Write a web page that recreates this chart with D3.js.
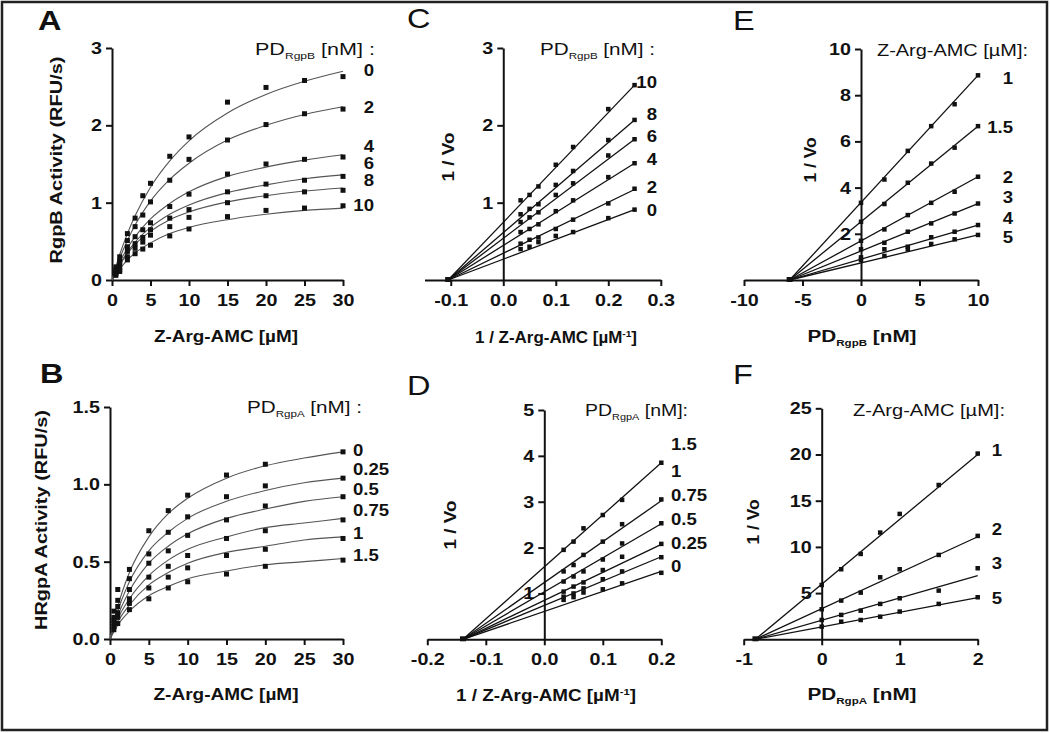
<!DOCTYPE html>
<html><head><meta charset="utf-8">
<script src="https://cdn.jsdelivr.net/npm/d3@7"></script>
<style>
body{margin:0;background:#fff;}
text{font-family:"Liberation Sans",Arial,sans-serif;fill:#111;}
</style></head><body>
<script>
// ---------- DATA ----------
// Panel A: RgpB activity vs Z-Arg-AMC, series = PD_RgpB [nM]
const aX = [0.5, 1, 2, 3, 4, 5, 7.5, 10, 15, 20, 25, 30];
const aLabels = ["0", "2", "4", "6", "8", "10"];
const aY0  = [0.17, 0.30, 0.60, 0.80, 1.09, 1.25, 1.60, 1.85, 2.30, 2.49, 2.58, 2.63];
const aY2  = [0.13, 0.24, 0.51, 0.69, 0.84, 1.01, 1.29, 1.56, 1.81, 2.01, 2.15, 2.21];
const aY4  = [0.11, 0.22, 0.43, 0.56, 0.65, 0.74, 0.95, 1.11, 1.37, 1.50, 1.56, 1.59];
const aY6  = [0.09, 0.17, 0.37, 0.47, 0.55, 0.65, 0.80, 0.91, 1.14, 1.24, 1.29, 1.34];
const aY8  = [0.08, 0.13, 0.30, 0.41, 0.49, 0.58, 0.69, 0.81, 1.00, 1.09, 1.14, 1.16];
const aY10 = [0.06, 0.11, 0.26, 0.34, 0.40, 0.45, 0.57, 0.66, 0.82, 0.90, 0.93, 0.96];
// fitted curves
const aFitX   = [0, 1, 2, 3, 5, 7.5, 10, 15, 20, 25, 30];
const aFit0   = [0, 0.33, 0.60, 0.83, 1.20, 1.54, 1.80, 2.16, 2.40, 2.57, 2.70];
const aFit2   = [0, 0.28, 0.51, 0.71, 1.02, 1.30, 1.51, 1.81, 2.00, 2.14, 2.24];
const aFit4   = [0, 0.23, 0.41, 0.56, 0.79, 0.99, 1.14, 1.34, 1.46, 1.55, 1.62];
const aFit6   = [0, 0.20, 0.36, 0.49, 0.68, 0.85, 0.97, 1.13, 1.23, 1.31, 1.36];
const aFit8   = [0, 0.19, 0.34, 0.46, 0.63, 0.78, 0.88, 1.01, 1.09, 1.15, 1.19];
const aFit10  = [0, 0.14, 0.26, 0.35, 0.48, 0.60, 0.68, 0.78, 0.85, 0.90, 0.93];
const aXTicks = [0, 5, 10, 15, 20, 25, 30];
const aYTicks = [0, 1, 2, 3];

// Panel B: HRgpA activity vs Z-Arg-AMC, series = PD_RgpA [nM]
const bX = [0.5, 1, 2.5, 5, 7.5, 10, 15, 20, 30];
const bLabels = ["0", "0.25", "0.5", "0.75", "1", "1.5"];
const bY0   = [0.18, 0.32, 0.45, 0.70, 0.83, 0.93, 1.06, 1.13, 1.21];
const bY025 = [0.14, 0.25, 0.39, 0.55, 0.69, 0.79, 0.92, 0.99, 1.04];
const bY05  = [0.12, 0.21, 0.32, 0.49, 0.57, 0.67, 0.77, 0.86, 0.92];
const bY075 = [0.10, 0.17, 0.26, 0.40, 0.47, 0.54, 0.65, 0.70, 0.77];
const bY1   = [0.08, 0.14, 0.23, 0.33, 0.40, 0.46, 0.54, 0.58, 0.65];
const bY15  = [0.06, 0.10, 0.19, 0.26, 0.33, 0.37, 0.42, 0.47, 0.51];
const bFitX   = [0, 1, 2.5, 5, 7.5, 10, 15, 20, 25, 30];
const bFit0   = [0, 0.21, 0.43, 0.66, 0.81, 0.91, 1.04, 1.12, 1.17, 1.21];
const bFit025 = [0, 0.18, 0.37, 0.57, 0.69, 0.78, 0.89, 0.96, 1.01, 1.04];
const bFit05  = [0, 0.15, 0.31, 0.49, 0.60, 0.68, 0.78, 0.84, 0.89, 0.92];
const bFit075 = [0, 0.13, 0.26, 0.41, 0.51, 0.58, 0.66, 0.72, 0.75, 0.78];
const bFit1   = [0, 0.11, 0.22, 0.35, 0.43, 0.49, 0.56, 0.60, 0.64, 0.66];
const bFit15  = [0, 0.09, 0.18, 0.28, 0.34, 0.39, 0.44, 0.48, 0.50, 0.52];
const bXTicks = [0, 5, 10, 15, 20, 25, 30];
const bYTicks = [0, 0.5, 1, 1.5];

// Panel C: Lineweaver-Burk RgpB
const cX = [0.033, 0.05, 0.067, 0.1, 0.133, 0.2, 0.25];
const cLabels = ["0", "2", "4", "6", "8", "10"];
const cY0  = [0.40, 0.43, 0.49, 0.57, 0.62, 0.80, 0.91];
const cY2  = [0.47, 0.52, 0.55, 0.66, 0.78, 0.99, 1.18];
const cY4  = [0.62, 0.66, 0.72, 0.89, 1.03, 1.33, 1.51];
const cY6  = [0.75, 0.81, 0.875, 1.10, 1.25, 1.61, 1.82];
const cY8  = [0.85, 0.92, 0.98, 1.23, 1.41, 1.81, 2.07];
const cY10 = [1.03, 1.10, 1.21, 1.49, 1.72, 2.21, 2.52];
const cFitX = [-0.105, 0.25];
const cFitEnd = [0.91, 1.17, 1.51, 1.82, 2.07, 2.52];
const cXTicks = [-0.1, 0, 0.1, 0.2, 0.3];
const cYTicks = [1, 2, 3];

// Panel D: Lineweaver-Burk HRgpA
const dX = [0.033, 0.05, 0.067, 0.1, 0.133, 0.2];
const dLabels = ["0", "0.25", "0.5", "0.75", "1", "1.5"];
const dY0   = [0.86, 0.92, 1.02, 1.09, 1.22, 1.45];
const dY025 = [0.93, 1.00, 1.11, 1.31, 1.48, 1.79];
const dY05  = [1.04, 1.15, 1.24, 1.51, 1.80, 2.08];
const dY075 = [1.26, 1.37, 1.48, 1.74, 2.09, 2.53];
const dY1   = [1.48, 1.62, 1.84, 2.13, 2.51, 3.05];
const dY15  = [1.95, 2.13, 2.42, 2.71, 3.04, 3.85];
const dFitX = [-0.139, 0.2];
const dFitEnd = [1.48, 1.80, 2.07, 2.52, 3.02, 3.85];
const dXTicks = [-0.2, -0.1, 0, 0.1, 0.2];
const dYTicks = [1, 2, 3, 4, 5];

// Panel E: Dixon RgpB, series = Z-Arg-AMC [uM]
const eX = [0, 2, 4, 6, 8, 10];
const eLabels = ["1", "1.5", "2", "3", "4", "5"];
const eY1  = [3.34, 4.35, 5.59, 6.66, 7.61, 8.86];
const eY15 = [2.52, 3.29, 4.21, 5.04, 5.73, 6.66];
const eY2  = [1.70, 2.19, 2.81, 3.34, 3.82, 4.47];
const eY3  = [1.33, 1.61, 2.09, 2.45, 2.88, 3.31];
const eY4  = [0.98, 1.33, 1.44, 1.85, 2.09, 2.38];
const eY5  = [0.86, 1.04, 1.33, 1.56, 1.76, 1.95];
const eFitX = [-6.1, 10];
const eFitEnd = [8.86, 6.66, 4.47, 3.31, 2.38, 1.95];
const eXTicks = [-10, -5, 0, 5, 10];
const eYTicks = [2, 4, 6, 8, 10];

// Panel F: Dixon HRgpA
const fX = [0, 0.25, 0.5, 0.75, 1, 1.5, 2];
const fLabels = ["1", "2", "3", "5"];
const fY1 = [5.88, 7.58, 9.24, 11.55, 13.57, 16.7, 20.1];
const fY2 = [3.25, 4.19, 5.05, 6.71, 7.58, 9.13, 11.19];
const fY3 = [2.09, 2.64, 3.10, 3.83, 4.44, 5.27, 7.69];
const fY5 = [1.37, 1.91, 2.09, 2.45, 3.00, 3.83, 4.55];
const fFitX = [-0.85, 2];
const fFitEnd = [20.0, 11.1, 6.9, 4.5];
const fXTicks = [-1, 0, 1, 2];
const fYTicks = [5, 10, 15, 20, 25];

// ---------- LAYOUT ----------
const FONT = '"Liberation Sans", Arial, sans-serif';
const fmtInt = d => String(d);
const fmt1 = d => (d < 0 ? "-" : "") + Math.abs(d).toFixed(1);

const panels = [
  { letter: "A", letterPos: [38, 30], letterBold: true,
    xDomain: [0, 30], xRange: [112, 343], yDomain: [0, 3], yRange: [280, 48],
    xTicks: aXTicks, yTicks: aYTicks, xFmt: fmtInt, yFmt: fmtInt,
    xs: aX, series: [aY0, aY2, aY4, aY6, aY8, aY10], labels: aLabels, ms: 5,
    fitXs: aFitX, fits: [aFit0, aFit2, aFit4, aFit6, aFit8, aFit10],
    lab: { x: 374, anchor: "end", ys: [70, 107, 146, 163, 180, 205] },
    yTitle: { parts: [{ t: "RgpB Activity (RFU/s)" }], pos: [56, 160], len: 207 },
    xTitle: { parts: [{ t: "Z-Arg-AMC [µM]" }], pos: [226, 336], len: 144 },
    legend: { parts: [{ t: "PD" }, { t: "RgpB", sub: true }, { t: " [nM] :" }], pos: [255, 49], len: 120 } },
  { letter: "B", letterPos: [40, 383], letterBold: true,
    xDomain: [0, 30], xRange: [110, 343], yDomain: [0, 1.5], yRange: [639, 407],
    xTicks: bXTicks, yTicks: bYTicks, xFmt: fmtInt, yFmt: fmt1,
    xs: bX, series: [bY0, bY025, bY05, bY075, bY1, bY15], labels: bLabels, ms: 5,
    fitXs: bFitX, fits: [bFit0, bFit025, bFit05, bFit075, bFit1, bFit15],
    lab: { x: 353, anchor: "start", ys: [450, 469, 489, 510, 533, 555] },
    yTitle: { parts: [{ t: "HRgpA Activity (RFU/s)" }], pos: [41, 520], len: 220 },
    xTitle: { parts: [{ t: "Z-Arg-AMC [µM]" }], pos: [226, 694], len: 145 },
    legend: { parts: [{ t: "PD" }, { t: "RgpA", sub: true }, { t: " [nM] :" }], pos: [247, 407], len: 115 } },
  { letter: "C", letterPos: [407, 28], letterBold: false,
    xDomain: [-0.15, 0.3], xRange: [424.5, 660.8], yDomain: [0, 3], yRange: [280, 48],
    xTicks: cXTicks, yTicks: cYTicks, xFmt: fmt1, yFmt: fmtInt,
    xs: cX, series: [cY0, cY2, cY4, cY6, cY8, cY10], labels: cLabels, ms: 4.5,
    fitX: cFitX, fitEnd: cFitEnd,
    lab: { x: 657, anchor: "end", ys: [210, 187, 159, 136, 114, 82] },
    yTitle: { parts: [{ t: "1 / Vo" }], pos: [448, 157], len: 49 },
    xTitle: { parts: [{ t: "1 / Z-Arg-AMC [µM" }, { t: "-1", sup: true }, { t: "]" }], pos: [556, 337], len: 162 },
    legend: { parts: [{ t: "PD" }, { t: "RgpB", sub: true }, { t: " [nM] :" }], pos: [540, 49], len: 115 } },
  { letter: "D", letterPos: [407, 395], letterBold: false,
    xDomain: [-0.2, 0.2], xRange: [427.3, 661.3], yDomain: [0, 5], yRange: [639.3, 410],
    xTicks: dXTicks, yTicks: dYTicks, xFmt: fmt1, yFmt: fmtInt,
    xs: dX, series: [dY0, dY025, dY05, dY075, dY1, dY15], labels: dLabels, ms: 4.5,
    fitX: dFitX, fitEnd: dFitEnd,
    lab: { x: 671, anchor: "start", ys: [566, 543, 519, 495, 471, 444] },
    yTitle: { parts: [{ t: "1 / Vo" }], pos: [450, 525], len: 49 },
    xTitle: { parts: [{ t: "1 / Z-Arg-AMC [µM" }, { t: "-1", sup: true }, { t: "]" }], pos: [546, 695], len: 180 },
    legend: { parts: [{ t: "PD" }, { t: "RgpA", sub: true }, { t: " [nM]:" }], pos: [585, 410], len: 103 } },
  { letter: "E", letterPos: [733, 30], letterBold: false,
    xDomain: [-10, 10], xRange: [744, 978], yDomain: [0, 10], yRange: [280, 49],
    xTicks: eXTicks, yTicks: eYTicks, xFmt: fmtInt, yFmt: fmtInt,
    xs: eX, series: [eY1, eY15, eY2, eY3, eY4, eY5], labels: eLabels, ms: 4.5,
    fitX: eFitX, fitEnd: eFitEnd,
    lab: { x: 1013, anchor: "end", ys: [78, 127, 177, 197, 218, 237] },
    yTitle: { parts: [{ t: "1 / Vo" }], pos: [810, 160], len: 45 },
    xTitle: { parts: [{ t: "PD" }, { t: "RgpB", sub: true }, { t: " [nM]" }], pos: [862, 336], len: 109 },
    legend: { parts: [{ t: "Z-Arg-AMC [µM]:" }], pos: [877, 50], len: 151 } },
  { letter: "F", letterPos: [733, 384], letterBold: false,
    xDomain: [-1, 2], xRange: [743.7, 977.7], yDomain: [0, 25], yRange: [639.3, 408.3],
    xTicks: fXTicks, yTicks: fYTicks, xFmt: fmtInt, yFmt: fmtInt,
    xs: fX, series: [fY1, fY2, fY3, fY5], labels: fLabels, ms: 4.5,
    fitX: fFitX, fitEnd: fFitEnd,
    lab: { x: 1002, anchor: "end", ys: [450, 529, 563, 598] },
    yTitle: { parts: [{ t: "1 / Vo" }], pos: [753, 522], len: 45 },
    xTitle: { parts: [{ t: "PD" }, { t: "RgpA", sub: true }, { t: " [nM]" }], pos: [862, 694], len: 109 },
    legend: { parts: [{ t: "Z-Arg-AMC [µM]:" }], pos: [853, 410], len: 152 } }
];

// ---------- DRAW ----------
const svg = d3.select("body").append("svg").attr("width", 1050).attr("height", 733);
svg.append("rect").attr("x", 2).attr("y", 2).attr("width", 1045).attr("height", 728)
  .attr("fill", "#fff").attr("stroke", "#222").attr("stroke-width", 2.5);

function rich(g, parts, size, weight) {
  const t = g.append("text").attr("font-family", FONT).attr("font-size", size).attr("font-weight", weight).attr("fill", "#111");
  let shift = 0;
  parts.forEach(p => {
    const ts = t.append("tspan").text(p.t);
    let target = 0, fs = size;
    if (p.sub) { target = 4; fs = size * 0.56; }
    if (p.sup) { target = -6; fs = size * 0.6; }
    ts.attr("font-size", fs);
    if (target !== shift) { ts.attr("dy", target - shift); shift = target; }
  });
  return t;
}

panels.forEach(p => {
  const x = d3.scaleLinear().domain(p.xDomain).range(p.xRange);
  const y = d3.scaleLinear().domain(p.yDomain).range(p.yRange);
  const g = svg.append("g");
  const yAxisX = p.xDomain[0] < 0 ? x(0) : p.xRange[0];

  const xa = g.append("g").attr("transform", `translate(0,${y(0)})`)
    .call(d3.axisBottom(x).tickValues(p.xTicks).tickFormat(p.xFmt).tickSize(6).tickSizeOuter(0).tickPadding(8));
  const ya = g.append("g").attr("transform", `translate(${yAxisX},0)`)
    .call(d3.axisLeft(y).tickValues(p.yTicks).tickFormat(p.yFmt).tickSize(6).tickSizeOuter(0).tickPadding(4));
  [xa, ya].forEach(a => {
    a.selectAll("path,line").attr("stroke", "#111").attr("stroke-width", 2);
    a.selectAll("text").attr("font-size", 17).attr("font-weight", "bold").attr("fill", "#111")
      .attr("font-family", FONT).classed("st", true);
  });

  // fit curves / lines
  if (p.fits) {
    p.fits.forEach(fv => {
      const pts = p.fitXs.map((xv, j) => [xv, fv[j]]);
      g.append("path").attr("d", d3.line().x(d => x(d[0])).y(d => y(d[1])).curve(d3.curveMonotoneX)(pts))
        .attr("fill", "none").attr("stroke", "#555").attr("stroke-width", 1.1);
    });
  } else {
    p.fitEnd.forEach(ev => {
      g.append("line").attr("x1", x(p.fitX[0])).attr("y1", y(0))
        .attr("x2", x(p.fitX[1])).attr("y2", y(ev))
        .attr("stroke", "#111").attr("stroke-width", 1.3);
    });
    g.append("rect").attr("x", x(p.fitX[0]) - 3).attr("y", y(0) - 3).attr("width", 6).attr("height", 5).attr("fill", "#111");
  }
  // markers
  p.series.forEach(ys => {
    g.selectAll(null).data(p.xs.map((xv, j) => [xv, ys[j]])).enter().append("rect")
      .attr("x", d => x(d[0]) - p.ms / 2).attr("y", d => y(d[1]) - p.ms / 2)
      .attr("width", p.ms).attr("height", p.ms).attr("fill", "#111");
  });
  // series labels
  p.labels.forEach((lb, i) => {
    g.append("text").attr("x", p.lab.x).attr("y", p.lab.ys[i]).attr("dy", "0.35em")
      .attr("text-anchor", p.lab.anchor).attr("font-family", FONT).attr("font-size", 16)
      .attr("font-weight", "bold").attr("fill", "#111").classed("st", true).text(lb);
  });
  // titles
  rich(g, p.yTitle.parts, 17, "bold").attr("text-anchor", "middle").attr("dy", "0.35em")
    .attr("transform", `translate(${p.yTitle.pos[0]},${p.yTitle.pos[1]}) rotate(-90)`)
    .classed("st", true).attr("data-len", p.yTitle.len);
  rich(g, p.xTitle.parts, 16, "bold").attr("text-anchor", "middle")
    .attr("x", p.xTitle.pos[0]).attr("y", p.xTitle.pos[1] + 5.5)
    .classed("st", true).attr("data-len", p.xTitle.len);
  rich(g, p.legend.parts, 16, "normal").attr("text-anchor", "start")
    .attr("x", p.legend.pos[0]).attr("y", p.legend.pos[1] + 5.5)
    .classed("st", true).attr("data-len", p.legend.len);
  g.append("text").attr("x", p.letterPos[0]).attr("y", p.letterPos[1])
    .attr("font-family", FONT).attr("font-size", 28).attr("font-weight", p.letterBold ? "bold" : "normal")
    .attr("fill", "#111").classed("st", true).text(p.letter);
});

// horizontal stretch of glyphs to match the reference's wide lettering
svg.selectAll("text.st").each(function () {
  const L = this.getComputedTextLength();
  const target = this.getAttribute("data-len");
  const tl = target ? +target : L * 1.16;
  this.setAttribute("textLength", tl);
  this.setAttribute("lengthAdjust", "spacingAndGlyphs");
});
</script>
</body></html>
